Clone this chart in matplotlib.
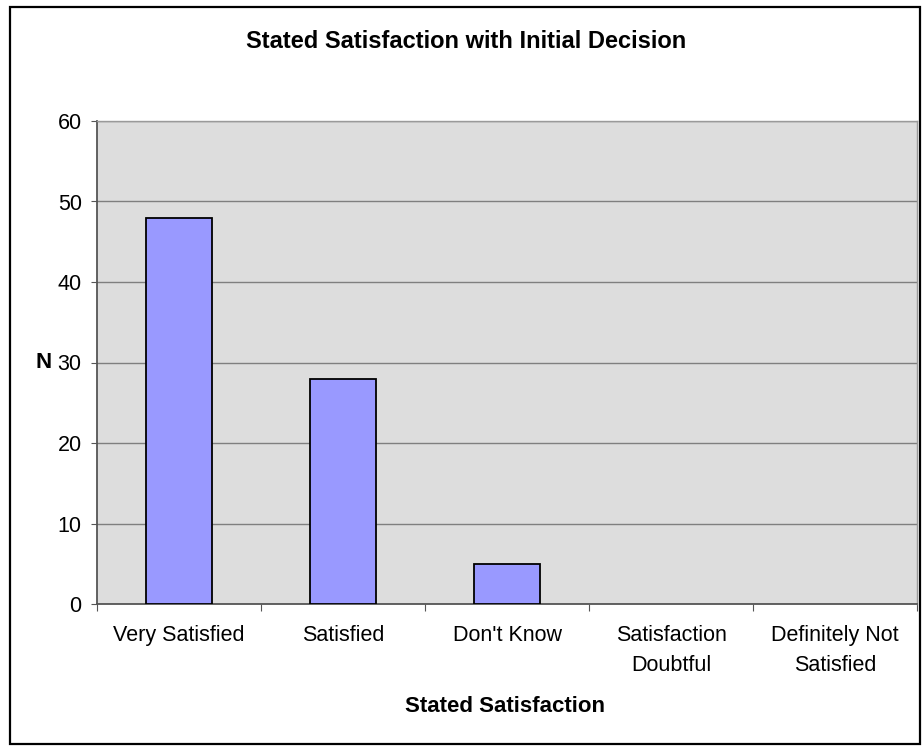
import matplotlib
matplotlib.use("Agg")
import matplotlib.pyplot as plt
from matplotlib.patches import Rectangle

plt.rcParams['font.family'] = ['Liberation Sans', 'DejaVu Sans']

categories = ["Very Satisfied", "Satisfied", "Don't Know",
              "Satisfaction\nDoubtful", "Definitely Not\nSatisfied"]
counts = [48, 28, 5, 0, 0]
y_ticks = [0, 10, 20, 30, 40, 50, 60]

W, H = 922, 746
fig = plt.figure(figsize=(W / 100, H / 100), dpi=100)
fig.patch.set_facecolor('white')
# outer chart border
fig.add_artist(Rectangle((10 / W, 2 / H), 910 / W, 737 / H, transform=fig.transFigure,
                         fill=False, edgecolor='black', linewidth=1.6))

ax = fig.add_axes([97 / W, 1 - 604 / H, 820 / W, 483 / H])
ax.set_facecolor('#DDDDDD')

x = list(range(len(categories)))
edge = ['black' if v > 0 else 'none' for v in counts]
ax.bar(x, counts, width=0.4, color='#9999FF', edgecolor=edge, linewidth=1.3, zorder=3)

ax.set_xlim(-0.5, len(categories) - 0.5)
ax.set_ylim(0, 60)
ax.set_yticks(y_ticks)
ax.set_yticklabels([str(v) for v in y_ticks], fontsize=15.5)
ax.yaxis.grid(True, color='#7F7F7F', linewidth=1.0, zorder=0)
ax.set_axisbelow(True)

# category boundaries carry the ticks; labels sit at the centres
ax.set_xticks([i - 0.5 for i in range(len(categories) + 1)])
ax.set_xticklabels([])
ax.set_xticks(x, minor=True)
ax.set_xticklabels(categories, minor=True, fontsize=15.5, linespacing=1.6)
ax.tick_params(axis='x', which='minor', length=0, pad=15)
ax.tick_params(axis='x', which='major', length=5, color='#555555')
ax.tick_params(axis='y', length=4, color='#555555', pad=7)

for side in ['left', 'bottom']:
    ax.spines[side].set_color('#555555')
    ax.spines[side].set_linewidth(1.3)
for side in ['top', 'right']:
    ax.spines[side].set_color('#9A9A9A')
    ax.spines[side].set_linewidth(1.0)

fig.text(466 / W, 1 - 42 / H, "Stated Satisfaction with Initial Decision",
         fontsize=17, fontweight='bold', ha='center', va='center')
fig.text(505 / W, 1 - 706 / H, "Stated Satisfaction",
         fontsize=16, fontweight='bold', ha='center', va='center')
fig.text(44 / W, 1 - 363 / H, "N",
         fontsize=16, fontweight='bold', ha='center', va='center')

fig.savefig("out.png", dpi=100)
